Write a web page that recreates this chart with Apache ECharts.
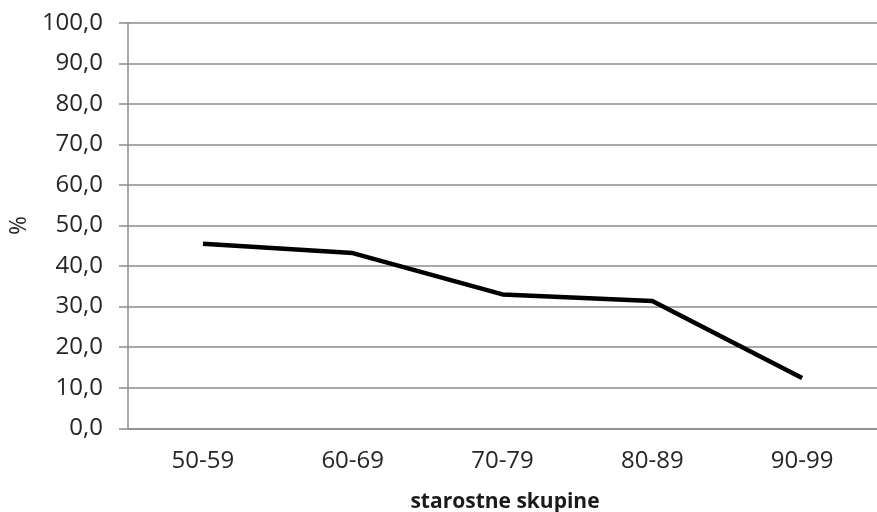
<!DOCTYPE html>
<html>
<head>
<meta charset="utf-8">
<script src="https://cdn.jsdelivr.net/npm/echarts@6/dist/echarts.min.js"></script>
<style>
html,body{margin:0;padding:0;background:#fff;}
#c{width:877px;height:512px;}
</style>
</head>
<body>
<div id="c"></div>
<script>
var categories = ['50-59', '60-69', '70-79', '80-89', '90-99'];
var values = [45.5, 43.2, 33.0, 31.4, 12.4];
var yTicks = [0, 10, 20, 30, 40, 50, 60, 70, 80, 90, 100];

var chart = echarts.init(document.getElementById('c'));
var font = 'Open Sans';
chart.setOption({
  animation: false,
  backgroundColor: '#fff',
  grid: { left: 128, right: -6, top: 22.7, bottom: 83.7 },
  xAxis: {
    type: 'category',
    data: categories,
    boundaryGap: true,
    axisLine: { show: true, lineStyle: { color: '#8c8c8c', width: 1.5 } },
    axisTick: { show: false },
    axisLabel: { color: '#262626', fontFamily: font, fontSize: 24, margin: 21 }
  },
  yAxis: {
    type: 'value',
    name: '%',
    nameLocation: 'middle',
    nameGap: 93,
    nameRotate: 90,
    nameTextStyle: { color: '#262626', fontFamily: font, fontSize: 23 },
    min: yTicks[0],
    max: yTicks[yTicks.length - 1],
    interval: 10,
    axisLine: { show: true, lineStyle: { color: '#8c8c8c', width: 1.5 } },
    axisTick: { show: true, length: 9, lineStyle: { color: '#8c8c8c', width: 1.5 } },
    splitLine: { show: true, lineStyle: { color: '#8c8c8c', width: 1.5 } },
    axisLabel: {
      color: '#262626', fontFamily: font, fontSize: 24, margin: 25,
      formatter: function (v) { return v.toFixed(1).replace('.', ','); }
    }
  },
  graphic: [
    { type: 'text', x: 505, y: 502,
      style: { text: 'starostne skupine', font: 'bold 21px "Open Sans"', fill: '#1a1a1a', align: 'center', verticalAlign: 'middle' } }
  ],
  series: [{
    type: 'line',
    data: values,
    symbol: 'none',
    lineStyle: { color: '#000', width: 4.5 }
  }]
});
</script>
</body>
</html>
